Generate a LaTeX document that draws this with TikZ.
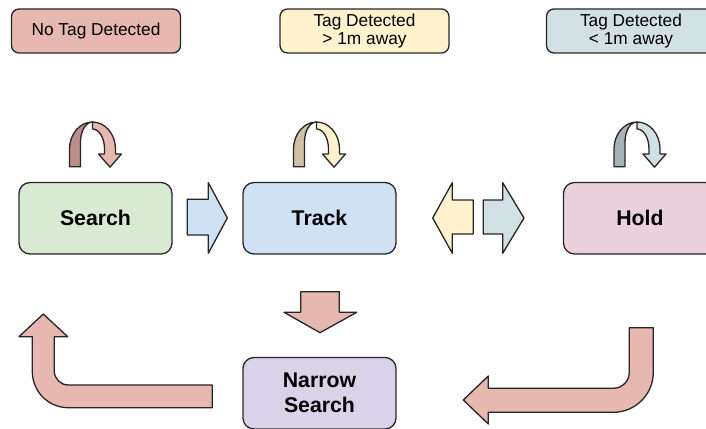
\documentclass[tikz,border=0pt]{standalone}
\usepackage{fontspec}
\setmainfont{Liberation Sans}

\definecolor{nottag}{HTML}{E6B8AF}
\definecolor{fartag}{HTML}{FFF2CC}
\definecolor{neartag}{HTML}{D0E0E3}
\definecolor{nottagdark}{HTML}{BC8E87}
\definecolor{fartagdark}{HTML}{CCC2A3}
\definecolor{neartagdark}{HTML}{A6B3B6}
\definecolor{searchgreen}{HTML}{D9EAD3}
\definecolor{trackblue}{HTML}{CFE2F3}
\definecolor{holdpink}{HTML}{EAD1DC}
\definecolor{narrowpurple}{HTML}{D9D2E9}

\begin{document}
\begin{tikzpicture}[
	outline/.style={draw=black!85, line width=0.74pt, line join=round},
	key/.style={outline, rounded corners=0.15cm, minimum width=3.38cm, minimum height=0.88cm,
		inner sep=0pt, align=center, font=\fontsize{9.84}{10.5}\selectfont},
	state/.style={outline, rounded corners=0.22cm, minimum width=3.06cm, minimum height=1.43cm,
		inner sep=0pt, align=center, font=\fontsize{12.1}{14.2}\selectfont\bfseries},
	blockarrow/.style={outline}
]
	\clip (0,0) rectangle (14.12,8.58);

	\draw ( 1.92, 7.96) node[key, fill=nottag]  (none) {No Tag Detected};
	\draw ( 7.29, 7.96) node[key, fill=fartag]  (far)  {Tag Detected\\> 1m away};
	\draw (12.62, 7.96) node[key, fill=neartag] (near) {Tag Detected\\< 1m away};

	\draw ( 1.91, 4.215) node[state, fill=searchgreen]  (search) {Search};
	\draw ( 6.39, 4.215) node[state, fill=trackblue]    (track)  {Track};
	\draw (12.80, 4.215) node[state, fill=holdpink]     (hold)   {Hold};
	\draw ( 6.39, 0.715) node[state, fill=narrowpurple] (narrow) {Narrow\\Search};

	% stay in the same state
	\foreach \cx/\dk/\lt in {1.85/nottagdark/nottag, 6.33/fartagdark/fartag, 12.74/neartagdark/neartag} {
		\draw[blockarrow, fill=\dk] (\cx-0.46,5.246) -- (\cx-0.46,5.60)
			arc[start angle=180, end angle=90, x radius=0.46, y radius=0.54]
			arc[start angle=90, end angle=180, x radius=0.24, y radius=0.40]
			-- (\cx-0.24,5.246) -- cycle;
		\draw[blockarrow, fill=\lt] (\cx,6.14)
			arc[start angle=90, end angle=0, x radius=0.46, y radius=0.54]
			-- (\cx+0.46,5.50) -- (\cx+0.58,5.50) -- (\cx+0.35,5.236) -- (\cx+0.12,5.50)
			-- (\cx+0.24,5.50) -- (\cx+0.24,5.60)
			arc[start angle=0, end angle=90, x radius=0.24, y radius=0.40] -- cycle;
	}

	% search -> track
	\draw[blockarrow, fill=trackblue] (3.746,4.594) -- (4.166,4.594) -- (4.166,4.926) -- (4.546,4.22)
		-- (4.166,3.514) -- (4.166,3.88) -- (3.746,3.88) -- cycle;

	% track <-> hold
	\draw[blockarrow, fill=fartag] (9.466,4.58) -- (9.046,4.58) -- (9.046,4.926) -- (8.654,4.22)
		-- (9.046,3.514) -- (9.046,3.90) -- (9.466,3.90) -- cycle;
	\draw[blockarrow, fill=neartag] (9.666,4.58) -- (10.054,4.58) -- (10.054,4.926) -- (10.48,4.22)
		-- (10.054,3.514) -- (10.054,3.90) -- (9.666,3.90) -- cycle;

	% track -> narrow search
	\draw[blockarrow, fill=nottag] (6.014,2.746) -- (6.786,2.746) -- (6.786,2.334) -- (7.134,2.334)
		-- (6.40,1.926) -- (5.68,2.334) -- (6.014,2.334) -- cycle;

	% narrow search -> search
	\draw[blockarrow, fill=nottag] (4.246,0.88) -- (1.366,0.88)
		arc[start angle=270, end angle=180, radius=0.28]
		-- (1.086,1.846) -- (1.354,1.846) -- (0.866,2.30) -- (0.38,1.846) -- (0.646,1.846) -- (0.646,1.146)
		arc[start angle=180, end angle=270, radius=0.72]
		-- (4.246,0.426) -- cycle;

	% hold -> narrow search
	\draw[blockarrow, fill=nottag] (12.586,2.026) -- (12.586,1.134)
		arc[start angle=0, end angle=-90, radius=0.32]
		-- (9.766,0.814) -- (9.766,1.06) -- (9.266,0.58) -- (9.766,0.10) -- (9.766,0.334) -- (12.266,0.334)
		arc[start angle=-90, end angle=0, radius=0.80]
		-- (13.066,2.026) -- cycle;
\end{tikzpicture}
\end{document}
